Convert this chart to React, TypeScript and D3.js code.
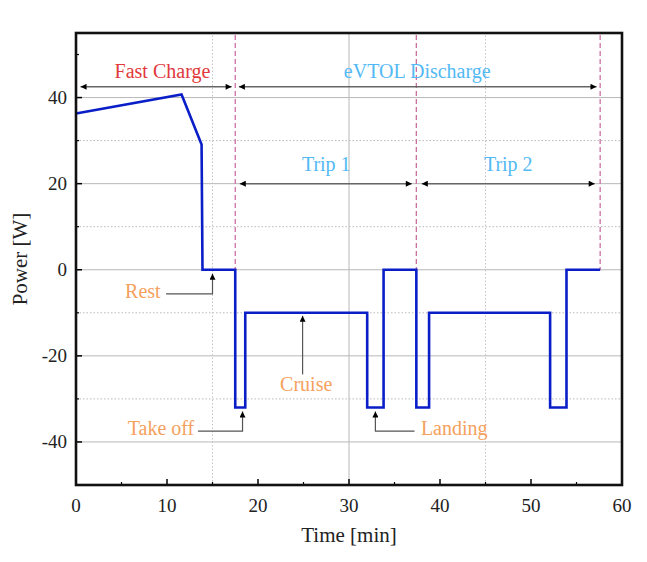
import * as d3 from "d3";
import React from "react";

// power profile (time in min, power in W)
const timeMin = [0, 11.6, 13.8, 13.9, 17.5, 17.5, 18.6, 18.6, 32.0, 32.0, 33.8, 33.8, 37.4, 37.4, 38.8, 38.8, 52.1, 52.1, 53.9, 53.9, 57.6];
const powerW = [36.3, 40.7, 29.1, 0, 0, -32, -32, -10, -10, -32, -32, 0, 0, -32, -32, -10, -10, -32, -32, 0, 0];

const phaseBounds = [17.5, 37.4, 57.6];

const xTicks = [0, 10, 20, 30, 40, 50, 60];
const xMinorTicks = [5, 15, 25, 35, 45, 55];
const yTicks = [-40, -20, 0, 20, 40];
const yMinorTicks = [-50, -30, -10, 10, 30, 50];
const xGridSolid = [30];
const xGridDotted = [15, 45];
const yGridDotted = [-30, -10, 10, 30];

// double-headed span arrows and their labels
const spanLabels = ["Fast Charge", "eVTOL Discharge", "Trip 1", "Trip 2"];
const spanFrom = [0.5, 17.9, 18.0, 38.0];
const spanTo = [17.1, 57.2, 36.9, 57.0];
const spanLevel = [42.5, 42.5, 20, 20];
const spanTextX = [9.5, 37.5, 27.5, 47.5];
const spanTextY = [44.6, 44.6, 23.0, 23.0];

const W = 647;
const H = 562;
const margin = { top: 33, right: 25, bottom: 77, left: 76 };

const RED = "#e2383c";
const BLUE_TXT = "#52b9f4";
const ORANGE = "#f5a15e";

export default function App() {
  const x = d3.scaleLinear().domain([0, 60]).range([margin.left, W - margin.right]);
  const y = d3.scaleLinear().domain([-50, 55]).range([H - margin.bottom, margin.top]);

  const line = d3
    .line<number>()
    .x((i) => x(timeMin[i]))
    .y((i) => y(powerW[i]));
  const pathD = line(d3.range(timeMin.length)) ?? "";

  const font = "'Liberation Serif', 'Times New Roman', serif";
  const x0 = x(0), x1 = x(60), y0 = y(-50), y1 = y(55);

  // leader line with arrow: horizontal then vertical up to tip
  const leader = (hx: number, tx: number, ly: number, tipY: number) =>
    `M${x(hx)},${y(ly)} L${x(tx)},${y(ly)} L${x(tx)},${y(tipY)}`;

  return (
    <div style={{ position: "absolute", left: 0, top: 0 }}>
      <svg width={W} height={H} style={{ display: "block", background: "#fff" }}>
        <defs>
          <marker id="ah" viewBox="0 0 10 10" refX="10" refY="5" markerWidth="8" markerHeight="6" markerUnits="userSpaceOnUse" orient="auto-start-reverse">
            <path d="M0,0 L10,5 L0,10 z" fill="#000" />
          </marker>
        </defs>

        {/* grid */}
        {yTicks.map((v) => (
          <line key={"gy" + v} x1={x0} x2={x1} y1={y(v)} y2={y(v)} stroke="#b8b8b8" strokeWidth={1} />
        ))}
        {yGridDotted.map((v) => (
          <line key={"gyd" + v} x1={x0} x2={x1} y1={y(v)} y2={y(v)} stroke="#b8b8b8" strokeWidth={1} strokeDasharray="1.5,2" />
        ))}
        {xGridSolid.map((v) => (
          <line key={"gx" + v} x1={x(v)} x2={x(v)} y1={y0} y2={y1} stroke="#b8b8b8" strokeWidth={1} />
        ))}
        {xGridDotted.map((v) => (
          <line key={"gxd" + v} x1={x(v)} x2={x(v)} y1={y0} y2={y1} stroke="#c4c4c4" strokeWidth={1} strokeDasharray="1.5,2" />
        ))}

        {/* phase boundaries */}
        {phaseBounds.map((v) => (
          <line key={"pb" + v} x1={x(v)} x2={x(v)} y1={y1 + 2} y2={y(0)} stroke="#cc6fa3" strokeWidth={1.3} strokeDasharray="5,3" />
        ))}

        {/* span arrows */}
        {spanLabels.map((s, i) => (
          <g key={s}>
            <line
              x1={x(spanFrom[i])}
              x2={x(spanTo[i])}
              y1={y(spanLevel[i])}
              y2={y(spanLevel[i])}
              stroke="#666"
              strokeWidth={1.5}
              markerStart="url(#ah)"
              markerEnd="url(#ah)"
            />
            <text
              x={x(spanTextX[i])}
              y={y(spanTextY[i])}
              textAnchor="middle"
              fontFamily={font}
              fontSize={20}
              fill={i === 0 ? RED : BLUE_TXT}
            >
              {s}
            </text>
          </g>
        ))}

        {/* power curve */}
        <path d={pathD} fill="none" stroke="#0a1ec8" strokeWidth={2.6} strokeLinejoin="miter" />

        {/* leaders */}
        <path d={leader(9.9, 15.0, -5.6, -0.9)} fill="none" stroke="#555" strokeWidth={1.2} markerEnd="url(#ah)" />
        <path d={`M${x(24.9)},${y(-24.3)} L${x(24.9)},${y(-10.7)}`} fill="none" stroke="#555" strokeWidth={1.2} markerEnd="url(#ah)" />
        <path d={leader(13.4, 18.3, -37.5, -32.9)} fill="none" stroke="#555" strokeWidth={1.2} markerEnd="url(#ah)" />
        <path d={leader(37.2, 32.9, -37.5, -32.9)} fill="none" stroke="#555" strokeWidth={1.2} markerEnd="url(#ah)" />

        <g fontFamily={font} fontSize={20} fill={ORANGE}>
          <text x={x(9.3)} y={y(-6.6)} textAnchor="end">Rest</text>
          <text x={x(25.3)} y={y(-28.1)} textAnchor="middle">Cruise</text>
          <text x={x(13.0)} y={y(-38.3)} textAnchor="end">Take off</text>
          <text x={x(37.9)} y={y(-38.3)} textAnchor="start">Landing</text>
        </g>

        {/* ticks */}
        {xTicks.map((v) => (
          <g key={"xt" + v}>
            <line x1={x(v)} x2={x(v)} y1={y0} y2={y0 - 6} stroke="#000" strokeWidth={1.5} />
            <text x={x(v)} y={y0 + 27} textAnchor="middle" fontFamily={font} fontSize={19} fill="#222">{v}</text>
          </g>
        ))}
        {xMinorTicks.map((v) => (
          <line key={"xm" + v} x1={x(v)} x2={x(v)} y1={y0} y2={y0 - 3} stroke="#000" strokeWidth={1.2} />
        ))}
        {yTicks.map((v) => (
          <g key={"yt" + v}>
            <line x1={x0} x2={x0 + 6} y1={y(v)} y2={y(v)} stroke="#000" strokeWidth={1.5} />
            <text x={x0 - 9} y={y(v) + 6.5} textAnchor="end" fontFamily={font} fontSize={19} fill="#222">{v}</text>
          </g>
        ))}
        {yMinorTicks.map((v) => (
          <line key={"ym" + v} x1={x0} x2={x0 + 3} y1={y(v)} y2={y(v)} stroke="#000" strokeWidth={1.2} />
        ))}

        {/* frame */}
        <rect x={x0} y={y1} width={x1 - x0} height={y0 - y1} fill="none" stroke="#111" strokeWidth={2.6} />

        {/* axis titles */}
        <text x={(x0 + x1) / 2} y={542} textAnchor="middle" fontFamily={font} fontSize={21} fill="#222">Time [min]</text>
        <text
          transform={`translate(27,${(y0 + y1) / 2}) rotate(-90)`}
          textAnchor="middle"
          fontFamily={font}
          fontSize={21}
          fill="#222"
        >
          Power [W]
        </text>
      </svg>
    </div>
  );
}
